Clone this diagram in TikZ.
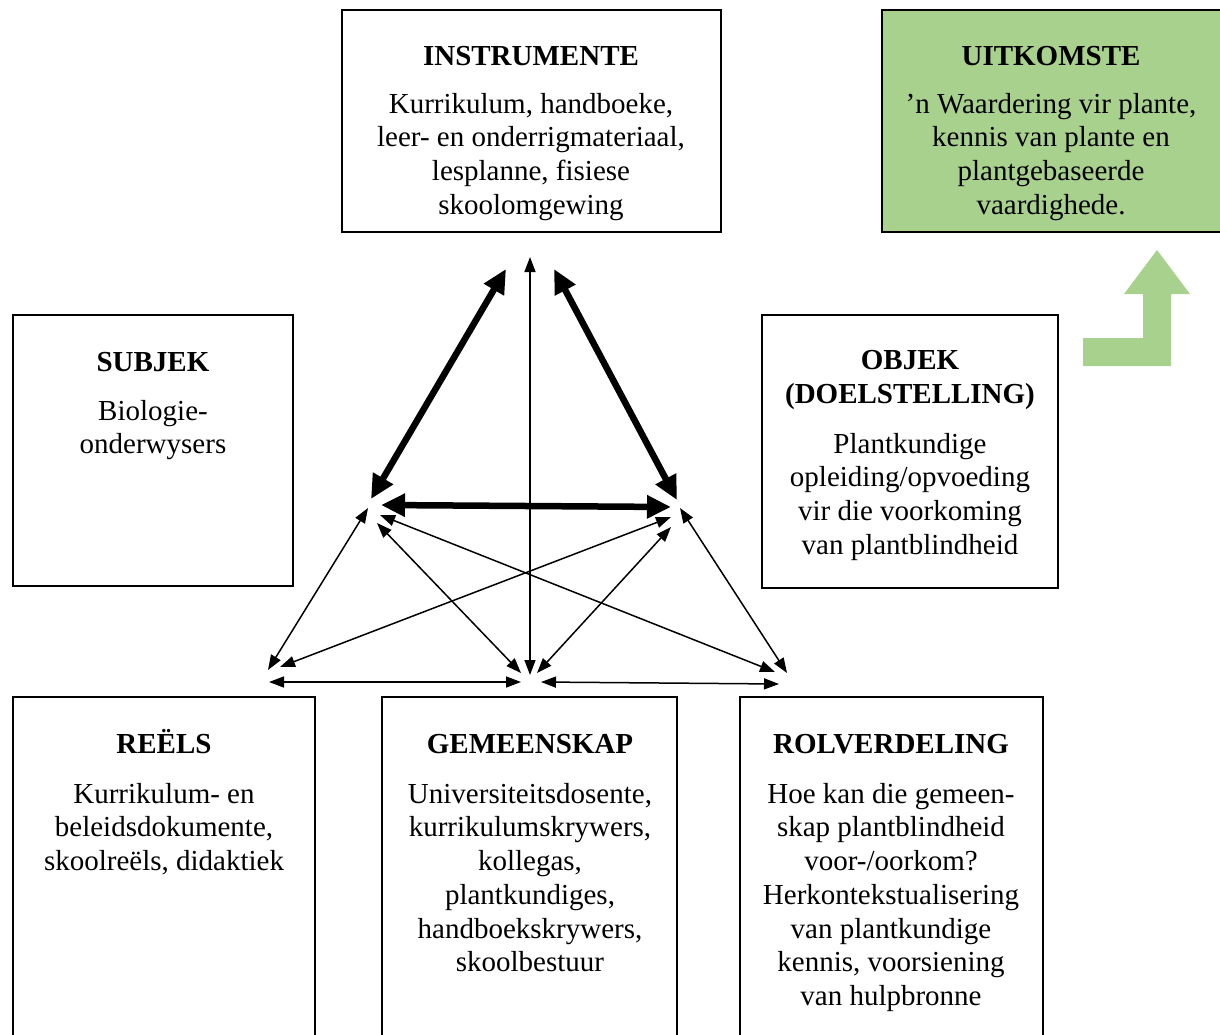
\documentclass[tikz,border=0pt]{standalone}
\usepackage{fontspec}
\setmainfont{Liberation Serif}
\usetikzlibrary{arrows.meta}
\definecolor{grn}{HTML}{A9D18E}
\begin{document}
\begin{tikzpicture}[x=1pt,y=-1pt,
  box/.style={draw=black, line width=1.4pt, inner sep=0pt, outer sep=0pt},
  ttl/.style={font={\fontsize{29}{33.7}\selectfont\bfseries}, inner sep=0pt, anchor=base, align=center},
  bdy/.style={font={\fontsize{29}{33.7}\selectfont}, inner sep=0pt, anchor=north, align=center},
  thin/.style={line width=1.5pt, {Triangle[length=15pt,width=11pt]}-{Triangle[length=15pt,width=11pt]}},
  thick/.style={line width=6.5pt, {Triangle[length=24pt,width=22pt]}-{Triangle[length=24pt,width=22pt]}}
]
\useasboundingbox (0,0) rectangle (1220,1035);
\clip (0,0) rectangle (1220,1035);

% boxes
\node[box, minimum width=379pt, minimum height=222pt] (instr) at (531.5,121) {};
\node[box, fill=grn, minimum width=340pt, minimum height=222pt] (uit) at (1052,121) {};
\node[box, minimum width=280pt, minimum height=271pt] (subj) at (153,450.5) {};
\node[box, minimum width=296pt, minimum height=273pt] (obj) at (910,451.5) {};
\node[box, minimum width=302pt, minimum height=350pt] (reels) at (164,872) {};
\node[box, minimum width=295pt, minimum height=350pt] (gem) at (529.5,872) {};
\node[box, minimum width=303pt, minimum height=350pt] (rol) at (891.5,872) {};

% texts
\node[ttl] (instrT) at (531,66) {INSTRUMENTE};
\node[bdy] (instrB) at (531,91) {\rule{0pt}{22pt}Kurrikulum, handboeke,\\leer- en onderrigmateriaal,\\lesplanne, fisiese\\skoolomgewing};

\node[ttl] (uitT) at (1051,66) {UITKOMSTE};
\node[bdy] (uitB) at (1051,91) {\rule{0pt}{22pt}’n Waardering vir plante,\\kennis van plante en\\plantgebaseerde\\vaardighede.};

\node[ttl] (subjT) at (153,371) {SUBJEK};
\node[bdy] (subjB) at (153,398) {\rule{0pt}{22pt}Biologie-\\onderwysers};

\node[ttl] (objT) at (910,403) {OBJEK\\(DOELSTELLING)};
\node[bdy] (objB) at (910,431) {\rule{0pt}{22pt}Plantkundige\\opleiding/opvoeding\\vir die voorkoming\\van plantblindheid};

\node[ttl] (reelsT) at (164,753) {REËLS};
\node[bdy] (reelsB) at (164,781) {\rule{0pt}{22pt}Kurrikulum- en\\beleidsdokumente,\\skoolreëls, didaktiek};

\node[ttl] (gemT) at (530,753) {GEMEENSKAP};
\node[bdy] (gemB) at (530,781) {\rule{0pt}{22pt}Universiteitsdosente,\\kurrikulumskrywers,\\kollegas,\\plantkundiges,\\handboekskrywers,\\skoolbestuur};

\node[ttl] (rolT) at (891,753) {ROLVERDELING};
\node[bdy] (rolB) at (891,781) {\rule{0pt}{22pt}Hoe kan die gemeen-\\skap plantblindheid\\voor-/oorkom?\\Herkontekstualisering\\van plantkundige\\kennis, voorsiening\\van hulpbronne};

% arrow end points
\coordinate (lt1) at (506,269);
\coordinate (lb1) at (371,499);
\coordinate (rt1) at (554,269);
\coordinate (rb1) at (677,500);
\coordinate (hl) at (381,505);
\coordinate (hr) at (671,507);
\coordinate (vt) at (530,257);
\coordinate (vb) at (530,675);

\coordinate (a1) at (368,508);  \coordinate (a2) at (268,670);
\coordinate (b1) at (377,523);  \coordinate (b2) at (521,673);
\coordinate (c1) at (380,515);  \coordinate (c2) at (775,672);
\coordinate (d1) at (671,517);  \coordinate (d2) at (280,667);
\coordinate (e1) at (671,527);  \coordinate (e2) at (537,673);
\coordinate (f1) at (680,508);  \coordinate (f2) at (787,673);
\coordinate (g1) at (269,682);  \coordinate (g2) at (521,682);
\coordinate (h1) at (541,682);  \coordinate (h2) at (779,684);

% thick arrows
\draw[thick] (lb1) -- (lt1);
\draw[thick] (rb1) -- (rt1);
\draw[thick] (hl) -- (hr);
% thin arrows
\draw[thin] (vb) -- (vt);
\draw[thin] (a1) -- (a2);
\draw[thin] (b1) -- (b2);
\draw[thin] (c1) -- (c2);
\draw[thin] (d1) -- (d2);
\draw[thin] (e1) -- (e2);
\draw[thin] (f1) -- (f2);
\draw[thin] (g1) -- (g2);
\draw[thin] (h1) -- (h2);

% green bent arrow
\fill[grn] (1157,250) -- (1190,294) -- (1171,294) -- (1171,366) -- (1083,366)
  -- (1083,338) -- (1143,338) -- (1143,294) -- (1124,294) -- cycle;
\end{tikzpicture}
\end{document}
